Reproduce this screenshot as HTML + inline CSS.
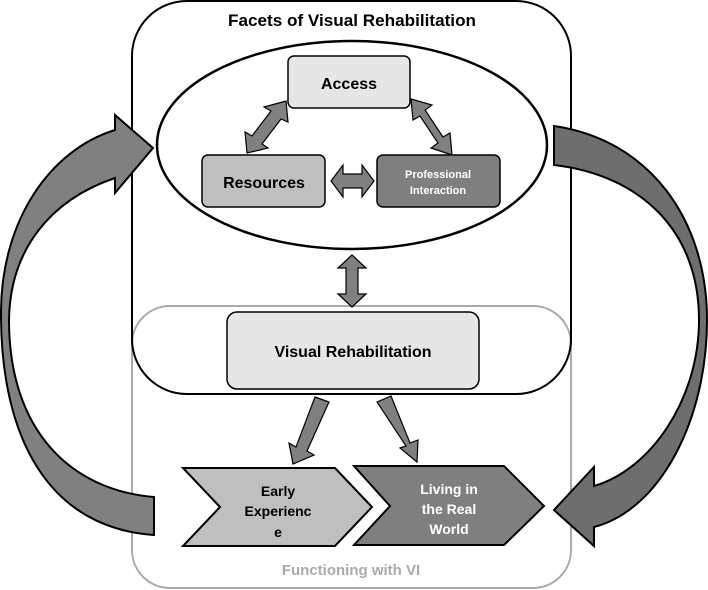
<!DOCTYPE html>
<html><head><meta charset="utf-8"><style>
html,body{margin:0;padding:0;background:#fff;}
svg{display:block;}
text{font-family:"Liberation Sans",sans-serif;font-weight:bold;}
</style></head><body>
<svg width="708" height="590" viewBox="0 0 708 590" xmlns="http://www.w3.org/2000/svg">
<rect x="0" y="0" width="708" height="590" fill="#fff"/>
<rect x="132" y="306" width="439" height="282" rx="38" fill="none" stroke="#aaa" stroke-width="2"/>
<rect x="132" y="1" width="439" height="393" rx="55" fill="none" stroke="#000" stroke-width="2"/>
<text x="352" y="26" font-size="16.5" text-anchor="middle" fill="#000" textLength="248" lengthAdjust="spacingAndGlyphs">Facets of Visual Rehabilitation</text>
<ellipse cx="352" cy="145" rx="195" ry="104" fill="#fff" stroke="#000" stroke-width="2.5"/>
<g fill="#808080" stroke="#000" stroke-width="1.2">
<path d="M286,101 L288,122 L281,119 L262,144 L268,148 L247,153 L245,132 L252,136 L271,111 L264,107 Z"/>
<path d="M411,99 L432,105 L425,110 L443,137 L450,133 L452,155 L431,148 L438,143 L420,116 L413,120 Z"/>
<path d="M331,181 L343,165 L343,174 L362,174 L362,165 L374,181 L362,197 L362,188 L343,188 L343,197 Z"/>
<path d="M352,255 L366,268 L358,268 L358,294 L366,294 L352,307 L338,294 L346,294 L346,268 L338,268 Z"/>
<path d="M315,397 L329,402 L307,451 L314,455 L293,464 L289,443 L296,447 Z"/>
<path d="M377,402 L391,396 L410,443 L418,440 L417,462 L400,448 L406,446 Z"/>
</g>
<rect x="288" y="56" width="122" height="52" rx="6" fill="#e6e6e6" stroke="#000" stroke-width="1.5"/>
<text x="349" y="89" font-size="16" text-anchor="middle">Access</text>
<rect x="202" y="155" width="123" height="52" rx="6" fill="#bfbfbf" stroke="#000" stroke-width="1.5"/>
<text x="264" y="188" font-size="16" text-anchor="middle">Resources</text>
<rect x="377" y="155" width="123" height="52" rx="6" fill="#7f7f7f" stroke="#000" stroke-width="1.5"/>
<text x="438" y="178" font-size="11" text-anchor="middle" fill="#fff">Professional</text>
<text x="438" y="194" font-size="11" text-anchor="middle" fill="#fff">Interaction</text>
<rect x="227" y="312" width="252" height="77" rx="10" fill="#e6e6e6" stroke="#000" stroke-width="1.5"/>
<text x="353" y="357" font-size="16" text-anchor="middle">Visual Rehabilitation</text>
<path d="M183,468 L335,468 L372,507 L335,546 L183,546 L220,507 Z" fill="#bfbfbf" stroke="#000" stroke-width="2"/>
<text x="278" y="496" font-size="14" text-anchor="middle">Early</text>
<text x="278" y="516" font-size="14" text-anchor="middle">Experienc</text>
<text x="278" y="537" font-size="14" text-anchor="middle">e</text>
<path d="M354,466 L504,466 L544,506 L504,545 L354,545 L390,506 Z" fill="#7f7f7f" stroke="#000" stroke-width="2"/>
<text x="449" y="494" font-size="14" text-anchor="middle" fill="#fff">Living in</text>
<text x="449" y="514" font-size="14" text-anchor="middle" fill="#fff">the Real</text>
<text x="449" y="534" font-size="14" text-anchor="middle" fill="#fff">World</text>
<text x="351" y="575" font-size="15" text-anchor="middle" fill="#aaa">Functioning with VI</text>
<path d="M154,535 C50,528 0,440 1,310 C2,220 50,150 115,130 L115,115 L153,148 L115,193 L115,178 C50,200 10,250 9,320 C9,430 70,490 154,497 Z" fill="#808080" stroke="#000" stroke-width="2"/>
<path d="M554,126 C650,140 707,220 707,320 C707,420 660,510 594,527 L594,546 L554,510 L594,467 L594,486 C650,470 699,400 699,320 C699,230 640,175 554,165 Z" fill="#6e6e6e" stroke="#000" stroke-width="2"/>
</svg>
</body></html>
